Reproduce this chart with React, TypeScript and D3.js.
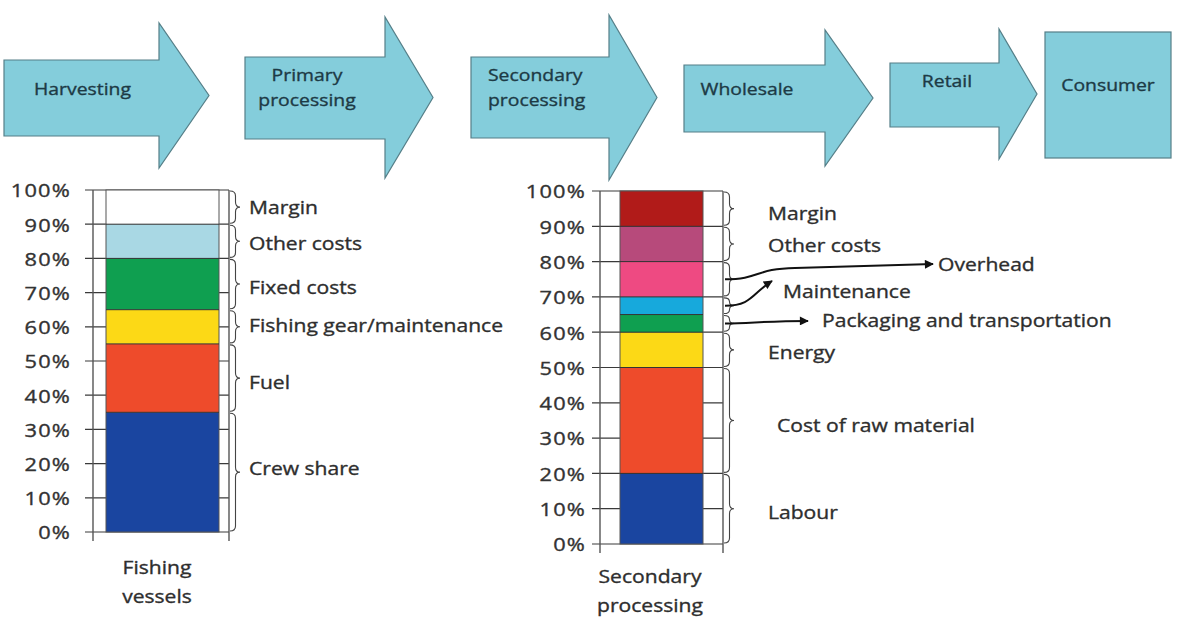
import React, { useEffect, useRef } from 'react';
import * as d3 from 'd3';

// value chain stages (top row)
const stageLines = [
  ['Harvesting'],
  ['Primary', 'processing'],
  ['Secondary', 'processing'],
  ['Wholesale'],
  ['Retail'],
  ['Consumer'],
];

// axis ticks
const tickValues = [0, 10, 20, 30, 40, 50, 60, 70, 80, 90, 100];
const tickLabels = ['0%', '10%', '20%', '30%', '40%', '50%', '60%', '70%', '80%', '90%', '100%'];

// fishing vessels cost structure (bottom to top)
const fishingCategories = ['Crew share', 'Fuel', 'Fishing gear/maintenance', 'Fixed costs', 'Other costs', 'Margin'];
const fishingShares = [35, 20, 10, 15, 10, 10];

// secondary processing cost structure (bottom to top)
const secondaryCategories = ['Labour', 'Cost of raw material', 'Energy', 'Packaging and transportation', 'Maintenance', 'Overhead', 'Other costs', 'Margin'];
const secondaryShares = [20, 30, 10, 5, 5, 10, 10, 10];

const fishingColors = ['#1a45a0', '#ee4b2b', '#fcd916', '#0f9f50', '#a9d8e4', '#ffffff'];
const secondaryColors = ['#1a45a0', '#ee4b2b', '#fcd916', '#0f9f50', '#17a9dc', '#ee4a82', '#b74a7b', '#b11b19'];

const FONT = "'Open Sans', 'Noto Sans', sans-serif";

// text is a bit wider and heavier in the original than Open Sans, so stretch it and give it a hairline stroke
function addText(g: any, x: number, y: number, str: string, o: { size?: number; anchor?: string; sx?: number; fill?: string; ls?: number } = {}) {
  const fill = o.fill ?? '#2e2e2e';
  return g.append('text')
    .attr('transform', `translate(${x},${y}) scale(${o.sx ?? 1.14},1)`)
    .attr('dominant-baseline', 'central')
    .attr('text-anchor', o.anchor ?? 'start')
    .attr('font-family', FONT)
    .attr('font-size', o.size ?? 18.5)
    .attr('letter-spacing', o.ls ?? 0)
    .attr('fill', fill)
    .attr('stroke', fill)
    .attr('stroke-width', 0.35)
    .text(str);
}

function App() {
  const svgRef = useRef<SVGSVGElement>(null);

  useEffect(() => {
    const svg = d3.select(svgRef.current);
    svg.selectAll('*').remove();

    svg.append('defs').append('marker')
      .attr('id', 'head')
      .attr('viewBox', '0 0 10 10')
      .attr('refX', 9).attr('refY', 5)
      .attr('markerWidth', 12).attr('markerHeight', 9)
      .attr('markerUnits', 'userSpaceOnUse')
      .attr('orient', 'auto')
      .append('path')
      .attr('d', 'M0,0 L10,5 L0,10 Z')
      .attr('fill', '#111');

    //---------- top row: arrows ----------
    const arrowShapes = [
      { x0: 4, x1: 159, x2: 209, bt: 60, bb: 136, ht: 23, hb: 168, tx: 34, ty: 88, anchor: 'start' },
      { x0: 245, x1: 385, x2: 433, bt: 57, bb: 139, ht: 17, hb: 178, tx: 307, ty: 87, anchor: 'middle' },
      { x0: 471, x1: 609, x2: 657, bt: 57, bb: 138, ht: 15, hb: 180, tx: 488, ty: 87, anchor: 'start' },
      { x0: 684, x1: 825, x2: 873, bt: 65, bb: 132, ht: 30, hb: 166, tx: 747, ty: 88, anchor: 'middle' },
      { x0: 890, x1: 999, x2: 1037, bt: 63, bb: 127, ht: 29, hb: 159, tx: 947, ty: 80, anchor: 'middle' },
    ];
    const top = svg.append('g');
    const outline = d3.line();
    arrowShapes.forEach((a) => {
      const tipY = (a.ht + a.hb) / 2;
      const pts: [number, number][] = [
        [a.x0, a.bt], [a.x1, a.bt], [a.x1, a.ht], [a.x2, tipY],
        [a.x1, a.hb], [a.x1, a.bb], [a.x0, a.bb],
      ];
      top.append('path')
        .attr('d', outline(pts) + 'Z')
        .attr('fill', '#84cddb')
        .attr('stroke', '#557f88')
        .attr('stroke-width', 1.2);
    });
    // consumer box
    top.append('rect')
      .attr('x', 1045).attr('y', 32).attr('width', 126).attr('height', 126)
      .attr('fill', '#84cddb').attr('stroke', '#557f88').attr('stroke-width', 1.2);

    const textPos = [...arrowShapes.map((a) => ({ tx: a.tx, ty: a.ty, anchor: a.anchor })), { tx: 1108, ty: 84, anchor: 'middle' }];
    stageLines.forEach((lines, i) => {
      const p = textPos[i];
      lines.forEach((ln, j) => {
        addText(top, p.tx, p.ty + (j - (lines.length - 1) / 2) * 25, ln,
          { size: 17, anchor: p.anchor, fill: '#1d3a45', sx: 1.14 });
      });
    });

    //---------- stacked bar panels ----------
    const brace = (x: number, y0: number, y1: number, w: number) => {
      const mid = (y0 + y1) / 2;
      const q = Math.min(5, (y1 - y0) / 4);
      const h = x + w * 0.55;
      return `M${x},${y0} Q${h},${y0} ${h},${y0 + q} L${h},${mid - q} Q${h},${mid} ${x + w},${mid}`
        + ` Q${h},${mid} ${h},${mid + q} L${h},${y1 - q} Q${h},${y1} ${x},${y1}`;
    };

    const drawPanel = (cfg: {
      shares: number[]; colors: string[]; categories: string[];
      yTop: number; yBot: number; axisX: number; gridL: number; frameR: number;
      barL: number; barR: number; labelRight: number; title: string[]; titleX: number; titleY: number;
      labelX: number[]; labelDy: number[]; skipLabels: number[];
    }) => {
      const g = svg.append('g');
      const y = d3.scaleLinear().domain([0, 100]).range([cfg.yBot, cfg.yTop]);
      const ends = d3.cumsum(cfg.shares);
      const starts = ends.map((e, i) => e - cfg.shares[i]);

      // grid / ticks
      g.selectAll('.grid').data(tickValues).join('line')
        .attr('x1', cfg.gridL).attr('x2', cfg.frameR)
        .attr('y1', (d) => y(d)).attr('y2', (d) => y(d))
        .attr('stroke', '#3a3a3a').attr('stroke-width', 1.2);
      // frame verticals
      [cfg.axisX, cfg.frameR].forEach((x) => {
        g.append('line')
          .attr('x1', x).attr('x2', x)
          .attr('y1', y(100)).attr('y2', y(0) + 9)
          .attr('stroke', '#555').attr('stroke-width', 1.4);
      });

      // bars
      g.selectAll('.seg').data(cfg.shares).join('rect')
        .attr('x', cfg.barL)
        .attr('width', cfg.barR - cfg.barL)
        .attr('y', (_, i) => y(ends[i]))
        .attr('height', (_, i) => y(starts[i]) - y(ends[i]))
        .attr('fill', (_, i) => cfg.colors[i]);
      g.append('rect')
        .attr('x', cfg.barL).attr('y', y(100))
        .attr('width', cfg.barR - cfg.barL).attr('height', y(0) - y(100))
        .attr('fill', 'none').attr('stroke', '#555').attr('stroke-width', 1);
      // segment borders
      g.selectAll('.sep').data(ends.slice(0, -1)).join('line')
        .attr('x1', cfg.barL).attr('x2', cfg.barR)
        .attr('y1', (d) => y(d)).attr('y2', (d) => y(d))
        .attr('stroke', '#333').attr('stroke-width', 1);

      // tick labels
      tickValues.forEach((v, i) => {
        addText(g, cfg.labelRight, y(v), tickLabels[i], { size: 18.5, anchor: 'end', sx: 1.18, ls: 1, fill: '#333' });
      });

      // braces
      cfg.shares.forEach((_, i) => {
        g.append('path')
          .attr('d', brace(cfg.frameR + 1, y(ends[i]) + 1, y(starts[i]) - 1, 10))
          .attr('fill', 'none').attr('stroke', '#444').attr('stroke-width', 1.1);
      });

      // category labels
      cfg.categories.forEach((c, i) => {
        if (cfg.skipLabels.includes(i)) return;
        addText(g, cfg.labelX[i], y((starts[i] + ends[i]) / 2) + cfg.labelDy[i], c);
      });

      // title under bar
      cfg.title.forEach((ln, j) => {
        addText(g, cfg.titleX, cfg.titleY + j * 29, ln, { anchor: 'middle' });
      });
      return y;
    };

    drawPanel({
      shares: fishingShares, colors: fishingColors, categories: fishingCategories,
      yTop: 190, yBot: 532, axisX: 93, gridL: 85, frameR: 229, barL: 106, barR: 219,
      labelRight: 71, title: ['Fishing', 'vessels'], titleX: 157, titleY: 567,
      labelX: [249, 249, 249, 249, 249, 249], labelDy: [-4, 4, -2, 3, 2, 0], skipLabels: [],
    });

    const yR = drawPanel({
      shares: secondaryShares, colors: secondaryColors, categories: secondaryCategories,
      yTop: 191, yBot: 544, axisX: 600, gridL: 592, frameR: 723, barL: 620, barR: 703,
      labelRight: 586, title: ['Secondary', 'processing'], titleX: 650, titleY: 576,
      labelX: [768, 777, 768, 0, 0, 0, 768, 768], labelDy: [3, 5, 2, 0, 0, 0, 1, 4], skipLabels: [3, 4, 5],
    });

    // callouts for the thin segments
    const callouts = [
      { name: secondaryCategories[5], path: `M725,${yR(75)} C760,${yR(75)} 755,${yR(78)} 795,${yR(78.2)} L933,${yR(79.3)}`, tx: 938, ty: yR(79.3) },
      { name: secondaryCategories[4], path: `M725,${yR(67.5)} C752,${yR(67.5)} 752,${yR(71)} 772,${yR(74.5)}`, tx: 783, ty: yR(71.8) },
      { name: secondaryCategories[3], path: `M725,${yR(62.5)} C750,${yR(62.5)} 765,${yR(63.2)} 808,${yR(63.2)}`, tx: 822, ty: yR(63.4) },
    ];
    callouts.forEach((c) => {
      svg.append('path')
        .attr('d', c.path)
        .attr('fill', 'none')
        .attr('stroke', '#111')
        .attr('stroke-width', 2)
        .attr('marker-end', 'url(#head)');
      addText(svg, c.tx, c.ty, c.name);
    });
  });

  return (
    <svg ref={svgRef} width={1182} height={618}
      style={{ position: 'absolute', left: 0, top: 0, background: '#fff' }} />
  );
}

export default App;
